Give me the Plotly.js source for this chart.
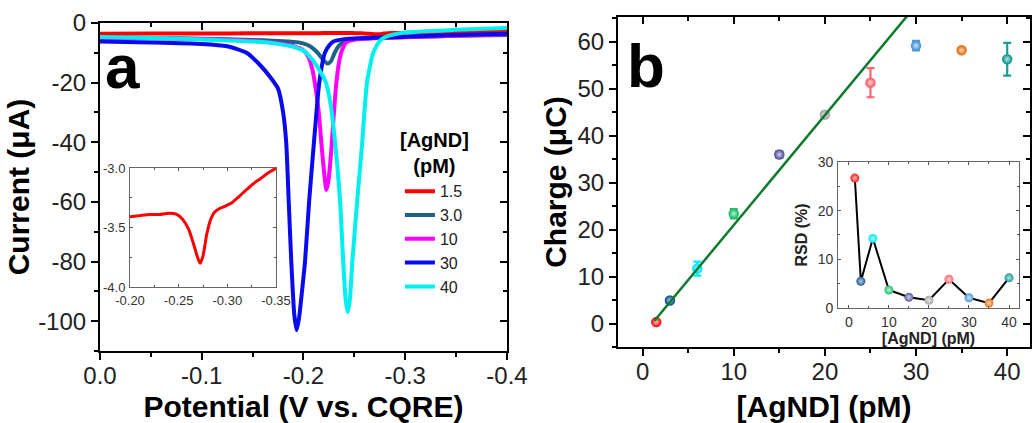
<!DOCTYPE html>
<html>
<head>
<meta charset="utf-8">
<script src="https://cdn.plot.ly/plotly-3.0.1.min.js"></script>
<style>html,body{margin:0;padding:0;background:#fff;}#chart{width:1036px;height:423px;}</style>
</head>
<body>
<div id="chart"></div>
<script>
// ---------- Panel a: voltammograms ----------
var seriesNames = ['1.5', '3.0', '10', '30', '40'];
var seriesColors = ['#ff0000', '#1d6387', '#ff00ff', '#0a0aee', '#00f0f0'];
var legendTitle = '<b>[AgND]<br>(pM)</b>';

var potRed = [0, -0.05, -0.10, -0.15, -0.20, -0.21, -0.22, -0.23, -0.24, -0.248, -0.254, -0.26, -0.265, -0.269, -0.272, -0.275, -0.279, -0.283, -0.287, -0.292, -0.298, -0.305, -0.312, -0.32, -0.327, -0.334, -0.342, -0.35, -0.37, -0.40];
var curRed = [-3.6, -3.55, -3.5, -3.46, -3.41, -3.40, -3.39, -3.39, -3.38, -3.39, -3.43, -3.51, -3.63, -3.74, -3.80, -3.74, -3.55, -3.43, -3.37, -3.34, -3.32, -3.29, -3.24, -3.18, -3.13, -3.09, -3.04, -3.00, -2.8, -2.5];

var potTeal = [0, -0.05, -0.10, -0.15, -0.18, -0.195, -0.203, -0.209, -0.214, -0.219, -0.2235, -0.227, -0.231, -0.235, -0.24, -0.25, -0.30, -0.35, -0.40];
var curTeal = [-4.8, -5.0, -5.3, -5.7, -6.1, -6.5, -7.2, -8.4, -10, -12.2, -13.6, -12.8, -9.7, -7.6, -6.2, -5.4, -4.7, -4.3, -4.0];

var potMag = [0, -0.05, -0.10, -0.15, -0.175, -0.19, -0.20, -0.205, -0.209, -0.212, -0.215, -0.218, -0.2205, -0.2225, -0.2245, -0.227, -0.2295, -0.232, -0.235, -0.238, -0.242, -0.25, -0.30, -0.35, -0.40];
var curMag = [-5.0, -5.1, -5.4, -6.0, -6.8, -7.8, -9.2, -11.5, -16, -22, -30, -42, -51, -56, -53, -44, -32, -21, -13, -9, -6.5, -5.6, -4.8, -4.3, -3.8];

var potBlue = [0, -0.05, -0.10, -0.125, -0.144, -0.157, -0.167, -0.175, -0.18, -0.183, -0.1855, -0.188, -0.191, -0.1933, -0.1956, -0.1985, -0.2015, -0.2055, -0.2103, -0.2155, -0.221, -0.225, -0.229, -0.24, -0.30, -0.35, -0.40];
var curBlue = [-6.2, -6.5, -7.0, -7.8, -10, -14, -18, -22, -30, -40, -60, -80, -98, -103, -99, -90, -80, -60, -40, -20, -10, -7.6, -6.3, -5.4, -4.6, -4.0, -3.6];

var potCyan = [0, -0.05, -0.10, -0.15, -0.175, -0.19, -0.20, -0.208, -0.216, -0.222, -0.227, -0.231, -0.236, -0.239, -0.2415, -0.2434, -0.2455, -0.248, -0.2527, -0.2577, -0.2624, -0.2685, -0.275, -0.282, -0.30, -0.35, -0.40];
var curCyan = [-4.7, -5.0, -5.5, -6.2, -7.0, -8.0, -9.3, -12, -16, -20, -28, -40, -60, -80, -93, -97, -93, -80, -60, -40, -20, -10, -6, -4.5, -3.2, -2.3, -1.7];

var aXTickVals = [0, -0.1, -0.2, -0.3, -0.4];
var aXTickText = ['0.0', '-0.1', '-0.2', '-0.3', '-0.4'];
var aYTickVals = [0, -20, -40, -60, -80, -100];
var aYTickText = ['0', '-20', '-40', '-60', '-80', '-100'];
var insAXTickVals = [-0.20, -0.25, -0.30, -0.35];
var insAXTickText = ['-0.20', '-0.25', '-0.30', '-0.35'];
var insAYTickVals = [-3.0, -3.5, -4.0];
var insAYTickText = ['-3.0', '-3.5', '-4.0'];

// ---------- Panel b: charge vs concentration ----------
var conc = [1.5, 3, 6, 10, 15, 20, 25, 30, 35, 40];
var charge = [0.3, 4.9, 11.7, 23.4, 36.0, 44.5, 51.3, 59.2, 58.2, 56.3];
var chargeErr = [0.3, 0.5, 1.5, 1.0, 0.7, 0.6, 3.1, 1.0, 0.5, 3.5];
var rsd = [26.7, 5.5, 14.3, 3.7, 2.2, 1.6, 5.9, 2.1, 1.0, 6.2];
var pointColors = ['#ff1a1a', '#1b5a96', '#00e8f8', '#22c068', '#5a5aa0', '#a8a8a8', '#ff6670', '#4a98d8', '#e8741a', '#1a9c98'];
var fitX = [1.3, 30];
var fitY = [0.6, 67.8];

var FONT = 'Liberation Sans, Arial, Helvetica, sans-serif';
var traces = [];
var curvesX = [potRed, potTeal, potMag, potBlue, potCyan];
var curvesY = [curRed, curTeal, curMag, curBlue, curCyan];
for (var i = 0; i < seriesNames.length; i++) {
  traces.push({
    type: 'scatter', mode: 'lines', x: curvesX[i], y: curvesY[i],
    name: seriesNames[i], xaxis: 'x', yaxis: 'y',
    line: {color: seriesColors[i], width: 4, shape: 'spline', smoothing: 0.6}
  });
}
traces.push({
  type: 'scatter', mode: 'lines', x: potRed, y: curRed, xaxis: 'x2', yaxis: 'y2',
  showlegend: false, line: {color: '#ff0000', width: 3, shape: 'spline', smoothing: 0.6}
});

function lighten(hex) {
  var r = parseInt(hex.substr(1, 2), 16), g = parseInt(hex.substr(3, 2), 16), b = parseInt(hex.substr(5, 2), 16);
  r = Math.round(r + (255 - r) * 0.7); g = Math.round(g + (255 - g) * 0.7); b = Math.round(b + (255 - b) * 0.7);
  return 'rgb(' + r + ',' + g + ',' + b + ')';
}

for (var j = 0; j < conc.length; j++) {
  traces.push({
    type: 'scatter', mode: 'markers', x: [conc[j]], y: [charge[j]], xaxis: 'x3', yaxis: 'y3',
    showlegend: false,
    error_y: {type: 'data', array: [chargeErr[j]], visible: true, color: pointColors[j], thickness: 2.2, width: 4},
    marker: {color: pointColors[j], size: 9, gradient: {type: 'radial', color: lighten(pointColors[j])},
             line: {color: pointColors[j], width: 1.5}}
  });
}
traces.push({
  type: 'scatter', mode: 'lines', x: fitX, y: fitY, xaxis: 'x3', yaxis: 'y3',
  showlegend: false, line: {color: '#0f7a2c', width: 2.5}
});
traces.push({
  type: 'scatter', mode: 'lines+markers', x: conc, y: rsd, xaxis: 'x4', yaxis: 'y4',
  showlegend: false, line: {color: '#000000', width: 2},
  marker: {color: pointColors, size: 9, gradient: {type: 'radial', color: pointColors.map(lighten)},
           line: {width: 0}}
});
// empty traces so that the mirrored (top / right) frame axes are drawn
[['x5', 'y'], ['x', 'y5'], ['x6', 'y3'], ['x3', 'y6']].forEach(function (p) {
  traces.push({type: 'scatter', mode: 'lines', x: [], y: [], xaxis: p[0], yaxis: p[1], showlegend: false, hoverinfo: 'skip'});
});

var tickF = {family: FONT, size: 24, color: '#222'};
var insF = {family: FONT, size: 13, color: '#333'};
var insBF = {family: FONT, size: 14, color: '#333'};

function mainAx(extra) {
  var o = {showgrid: false, zeroline: false, showline: true, linecolor: '#000', linewidth: 2,
           ticks: 'outside', ticklen: 7, tickwidth: 2, tickcolor: '#000', tickfont: tickF};
  for (var k in extra) o[k] = extra[k];
  return o;
}
function mirrorAx(extra) {
  var o = {showgrid: false, zeroline: false, showline: true, linecolor: '#000', linewidth: 2,
           ticks: 'inside', ticklen: 7, tickwidth: 2, tickcolor: '#000', showticklabels: false};
  for (var k in extra) o[k] = extra[k];
  return o;
}
function insAx(extra) {
  var o = {showgrid: false, zeroline: false, showline: true, linecolor: '#666', linewidth: 1,
           mirror: 'ticks', ticks: 'inside', ticklen: 3, tickwidth: 1, tickcolor: '#555', ticklabelstandoff: 1};
  for (var k in extra) o[k] = extra[k];
  return o;
}

var aDomX = [0.0965, 0.4894], aDomY = [0.1702, 0.9456];
var bDomX = [0.5965, 0.9942], bDomY = [0.1797, 0.9598];

var layout = {
  width: 1036, height: 423,
  margin: {l: 0, r: 0, t: 0, b: 0},
  paper_bgcolor: '#fff', plot_bgcolor: 'rgba(0,0,0,0)',
  font: {family: FONT, color: '#000'},
  showlegend: true,
  legend: {x: 0.386, y: 0.588, xanchor: 'left', yanchor: 'top', bgcolor: 'rgba(0,0,0,0)',
           font: {family: FONT, size: 16, color: '#222'}, tracegroupgap: 0},
  xaxis: mainAx({domain: aDomX, anchor: 'y', range: [0, -0.4], tickmode: 'array', tickvals: aXTickVals, ticktext: aXTickText,
    ticklabelstandoff: -5,
    minor: {tickmode: 'linear', tick0: 0, dtick: 0.05, ticks: 'outside', ticklen: 4, tickwidth: 2, tickcolor: '#000'},
    title: {text: '<b>Potential (V vs. CQRE)</b>', font: {family: FONT, size: 30, color: '#000'}, standoff: 12}}),
  yaxis: mainAx({domain: aDomY, anchor: 'x', range: [-110, 0], tickmode: 'array', tickvals: aYTickVals, ticktext: aYTickText,
    minor: {tickmode: 'linear', tick0: 0, dtick: 10, ticks: 'outside', ticklen: 4, tickwidth: 2, tickcolor: '#000'},
    title: {text: '<b>Current (μA)</b>', font: {family: FONT, size: 30, color: '#000'}, standoff: 0}}),
  xaxis5: mirrorAx({domain: aDomX, anchor: 'y', overlaying: 'x', side: 'top', range: [0, -0.4], tickmode: 'array', tickvals: aXTickVals,
    minor: {tickmode: 'linear', tick0: 0, dtick: 0.05, ticks: 'inside', ticklen: 4, tickwidth: 2, tickcolor: '#000'}}),
  yaxis5: mirrorAx({domain: aDomY, anchor: 'x', overlaying: 'y', side: 'right', range: [-110, 0], tickmode: 'array', tickvals: aYTickVals,
    minor: {tickmode: 'linear', tick0: 0, dtick: 10, ticks: 'inside', ticklen: 4, tickwidth: 2, tickcolor: '#000'}}),
  xaxis2: insAx({domain: [0.1255, 0.2664], anchor: 'y2', range: [-0.20, -0.35], tickmode: 'array', tickvals: insAXTickVals, ticktext: insAXTickText, tickfont: insF,
    minor: {tickmode: 'linear', tick0: 0, dtick: 0.025, ticks: 'inside', ticklen: 2, tickcolor: '#555'}}),
  yaxis2: insAx({domain: [0.3215, 0.6028], anchor: 'x2', range: [-4.0, -3.0], tickmode: 'array', tickvals: insAYTickVals, ticktext: insAYTickText, tickfont: insF,
    minor: {tickmode: 'linear', tick0: 0, dtick: 0.25, ticks: 'inside', ticklen: 2, tickcolor: '#555'}}),
  xaxis3: mainAx({domain: bDomX, anchor: 'y3', range: [-2.7, 42.5], tickmode: 'linear', tick0: 0, dtick: 10,
    ticklabelstandoff: -5,
    minor: {tickmode: 'linear', tick0: 0, dtick: 5, ticks: 'outside', ticklen: 4, tickwidth: 2, tickcolor: '#000'},
    title: {text: '<b>[AgND] (pM)</b>', font: {family: FONT, size: 30, color: '#000'}, standoff: 12}}),
  yaxis3: mainAx({domain: bDomY, anchor: 'x3', range: [-5, 65.3], tickmode: 'linear', tick0: 0, dtick: 10,
    minor: {tickmode: 'linear', tick0: 0, dtick: 5, ticks: 'outside', ticklen: 4, tickwidth: 2, tickcolor: '#000'},
    title: {text: '<b>Charge (μC)</b>', font: {family: FONT, size: 30, color: '#000'}, standoff: 2}}),
  xaxis6: mirrorAx({domain: bDomX, anchor: 'y3', overlaying: 'x3', side: 'top', range: [-2.7, 42.5], tickmode: 'linear', tick0: 0, dtick: 10,
    minor: {tickmode: 'linear', tick0: 0, dtick: 5, ticks: 'inside', ticklen: 4, tickwidth: 2, tickcolor: '#000'}}),
  yaxis6: mirrorAx({domain: bDomY, anchor: 'x3', overlaying: 'y3', side: 'right', range: [-5, 65.3], tickmode: 'linear', tick0: 0, dtick: 10,
    minor: {tickmode: 'linear', tick0: 0, dtick: 5, ticks: 'inside', ticklen: 4, tickwidth: 2, tickcolor: '#000'}}),
  xaxis4: insAx({domain: [0.8089, 0.9836], anchor: 'y4', range: [-2.7, 42.5], tickmode: 'linear', tick0: 0, dtick: 10, tickfont: insBF,
    minor: {tickmode: 'linear', tick0: 0, dtick: 5, ticks: 'inside', ticklen: 2, tickcolor: '#555'},
    title: {text: '<b>[AgND] (pM)</b>', font: {family: FONT, size: 16, color: '#222'}, standoff: 1}}),
  yaxis4: insAx({domain: [0.2719, 0.6170], anchor: 'x4', range: [0, 30], tickmode: 'linear', tick0: 0, dtick: 10, tickfont: insBF,
    minor: {tickmode: 'linear', tick0: 0, dtick: 5, ticks: 'inside', ticklen: 2, tickcolor: '#555'},
    title: {text: '<b>RSD (%)</b>', font: {family: FONT, size: 16, color: '#222'}, standoff: 6}}),
  annotations: [
    {xref: 'paper', yref: 'paper', x: 0.1187, y: 0.842, xanchor: 'center', yanchor: 'middle', showarrow: false,
     text: '<b>a</b>', font: {family: FONT, size: 62, color: '#000'}},
    {xref: 'paper', yref: 'paper', x: 0.6236, y: 0.844, xanchor: 'center', yanchor: 'middle', showarrow: false,
     text: '<b>b</b>', font: {family: FONT, size: 62, color: '#000'}},
    {xref: 'paper', yref: 'paper', x: 0.419, y: 0.638, xanchor: 'center', yanchor: 'middle', showarrow: false, align: 'center',
     text: legendTitle, font: {family: FONT, size: 20, color: '#000'}}
  ]
};

Plotly.newPlot('chart', traces, layout, {staticPlot: true, displayModeBar: false});
</script>
</body>
</html>
